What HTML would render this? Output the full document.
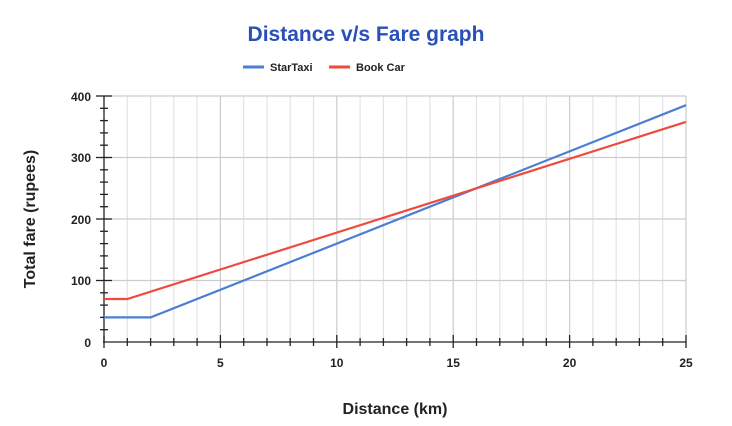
<!DOCTYPE html>
<html><head><style>
body{margin:0;background:#fff;}
svg text{font-family:"Liberation Sans",Arial,sans-serif;font-weight:bold;}
</style></head><body>
<svg width="732" height="421" viewBox="0 0 732 421" xmlns="http://www.w3.org/2000/svg">
<rect width="732" height="421" fill="#fff"/>
<text x="366" y="41" text-anchor="middle" font-size="21" fill="#2a50b8">Distance v/s Fare graph</text>
<line x1="243" y1="67" x2="264" y2="67" stroke="#4a7fd4" stroke-width="3"/>
<text x="270" y="71" font-size="11" fill="#222">StarTaxi</text>
<line x1="329" y1="67" x2="350" y2="67" stroke="#ee4b3e" stroke-width="3"/>
<text x="356" y="71" font-size="11" fill="#222">Book Car</text>
<g stroke="#e4e4e4" stroke-width="1">
<script></script>
</g>
<g id="grid"></g>
<g stroke="#e3e3e3" stroke-width="1.2">
<line x1="127.3" y1="96" x2="127.3" y2="342"/><line x1="150.6" y1="96" x2="150.6" y2="342"/><line x1="173.8" y1="96" x2="173.8" y2="342"/><line x1="197.1" y1="96" x2="197.1" y2="342"/>
<line x1="243.7" y1="96" x2="243.7" y2="342"/><line x1="267" y1="96" x2="267" y2="342"/><line x1="290.2" y1="96" x2="290.2" y2="342"/><line x1="313.5" y1="96" x2="313.5" y2="342"/>
<line x1="360.1" y1="96" x2="360.1" y2="342"/><line x1="383.4" y1="96" x2="383.4" y2="342"/><line x1="406.6" y1="96" x2="406.6" y2="342"/><line x1="429.9" y1="96" x2="429.9" y2="342"/>
<line x1="476.5" y1="96" x2="476.5" y2="342"/><line x1="499.8" y1="96" x2="499.8" y2="342"/><line x1="523" y1="96" x2="523" y2="342"/><line x1="546.3" y1="96" x2="546.3" y2="342"/>
<line x1="592.9" y1="96" x2="592.9" y2="342"/><line x1="616.2" y1="96" x2="616.2" y2="342"/><line x1="639.4" y1="96" x2="639.4" y2="342"/><line x1="662.7" y1="96" x2="662.7" y2="342"/>
</g>
<g stroke="#cccccc" stroke-width="1.2">
<line x1="220.4" y1="96" x2="220.4" y2="342"/><line x1="336.8" y1="96" x2="336.8" y2="342"/><line x1="453.2" y1="96" x2="453.2" y2="342"/><line x1="569.6" y1="96" x2="569.6" y2="342"/><line x1="686" y1="96" x2="686" y2="342"/>
<line x1="104" y1="96" x2="686" y2="96"/><line x1="104" y1="157.5" x2="686" y2="157.5"/><line x1="104" y1="219" x2="686" y2="219"/><line x1="104" y1="280.5" x2="686" y2="280.5"/>
</g>
<g stroke="#222" stroke-width="1.3">
<line x1="104" y1="96" x2="104" y2="343"/><line x1="103" y1="342" x2="686" y2="342"/>
<line x1="96" y1="96" x2="112" y2="96"/><line x1="96" y1="157.5" x2="112" y2="157.5"/><line x1="96" y1="219" x2="112" y2="219"/><line x1="96" y1="280.5" x2="112" y2="280.5"/>
<line x1="100" y1="108.3" x2="108" y2="108.3"/><line x1="100" y1="120.6" x2="108" y2="120.6"/><line x1="100" y1="132.9" x2="108" y2="132.9"/><line x1="100" y1="145.2" x2="108" y2="145.2"/>
<line x1="100" y1="169.8" x2="108" y2="169.8"/><line x1="100" y1="182.1" x2="108" y2="182.1"/><line x1="100" y1="194.4" x2="108" y2="194.4"/><line x1="100" y1="206.7" x2="108" y2="206.7"/>
<line x1="100" y1="231.3" x2="108" y2="231.3"/><line x1="100" y1="243.6" x2="108" y2="243.6"/><line x1="100" y1="255.9" x2="108" y2="255.9"/><line x1="100" y1="268.2" x2="108" y2="268.2"/>
<line x1="100" y1="292.8" x2="108" y2="292.8"/><line x1="100" y1="305.1" x2="108" y2="305.1"/><line x1="100" y1="317.4" x2="108" y2="317.4"/><line x1="100" y1="329.7" x2="108" y2="329.7"/>
<line x1="127.3" y1="338" x2="127.3" y2="346"/><line x1="150.6" y1="338" x2="150.6" y2="346"/><line x1="173.8" y1="338" x2="173.8" y2="346"/><line x1="197.1" y1="338" x2="197.1" y2="346"/>
<line x1="243.7" y1="338" x2="243.7" y2="346"/><line x1="267" y1="338" x2="267" y2="346"/><line x1="290.2" y1="338" x2="290.2" y2="346"/><line x1="313.5" y1="338" x2="313.5" y2="346"/>
<line x1="360.1" y1="338" x2="360.1" y2="346"/><line x1="383.4" y1="338" x2="383.4" y2="346"/><line x1="406.6" y1="338" x2="406.6" y2="346"/><line x1="429.9" y1="338" x2="429.9" y2="346"/>
<line x1="476.5" y1="338" x2="476.5" y2="346"/><line x1="499.8" y1="338" x2="499.8" y2="346"/><line x1="523" y1="338" x2="523" y2="346"/><line x1="546.3" y1="338" x2="546.3" y2="346"/>
<line x1="592.9" y1="338" x2="592.9" y2="346"/><line x1="616.2" y1="338" x2="616.2" y2="346"/><line x1="639.4" y1="338" x2="639.4" y2="346"/><line x1="662.7" y1="338" x2="662.7" y2="346"/>
<line x1="104" y1="336" x2="104" y2="348"/><line x1="220.4" y1="335" x2="220.4" y2="348"/><line x1="336.8" y1="335" x2="336.8" y2="348"/><line x1="453.2" y1="335" x2="453.2" y2="348"/><line x1="569.6" y1="335" x2="569.6" y2="348"/><line x1="686" y1="335" x2="686" y2="348"/>
</g>
<g font-size="12" fill="#222" text-anchor="end">
<text x="91" y="101">400</text><text x="91" y="162">300</text><text x="91" y="224">200</text><text x="91" y="285">100</text><text x="91" y="347">0</text>
</g>
<g font-size="12" fill="#222" text-anchor="middle">
<text x="104" y="367">0</text><text x="220.4" y="367">5</text><text x="336.8" y="367">10</text><text x="453.2" y="367">15</text><text x="569.6" y="367">20</text><text x="686" y="367">25</text>
</g>
<polyline points="104,317.4 150.6,317.4 686,105.2" fill="none" stroke="#4a7fd4" stroke-width="2.2"/>
<polyline points="104,299 127.3,299 686,121.9" fill="none" stroke="#ee4b3e" stroke-width="2.2"/>
<text x="395" y="414" text-anchor="middle" font-size="16" fill="#222">Distance (km)</text>
<text transform="translate(35,219) rotate(-90)" text-anchor="middle" font-size="16" fill="#222">Total fare (rupees)</text>
</svg>
</body></html>
